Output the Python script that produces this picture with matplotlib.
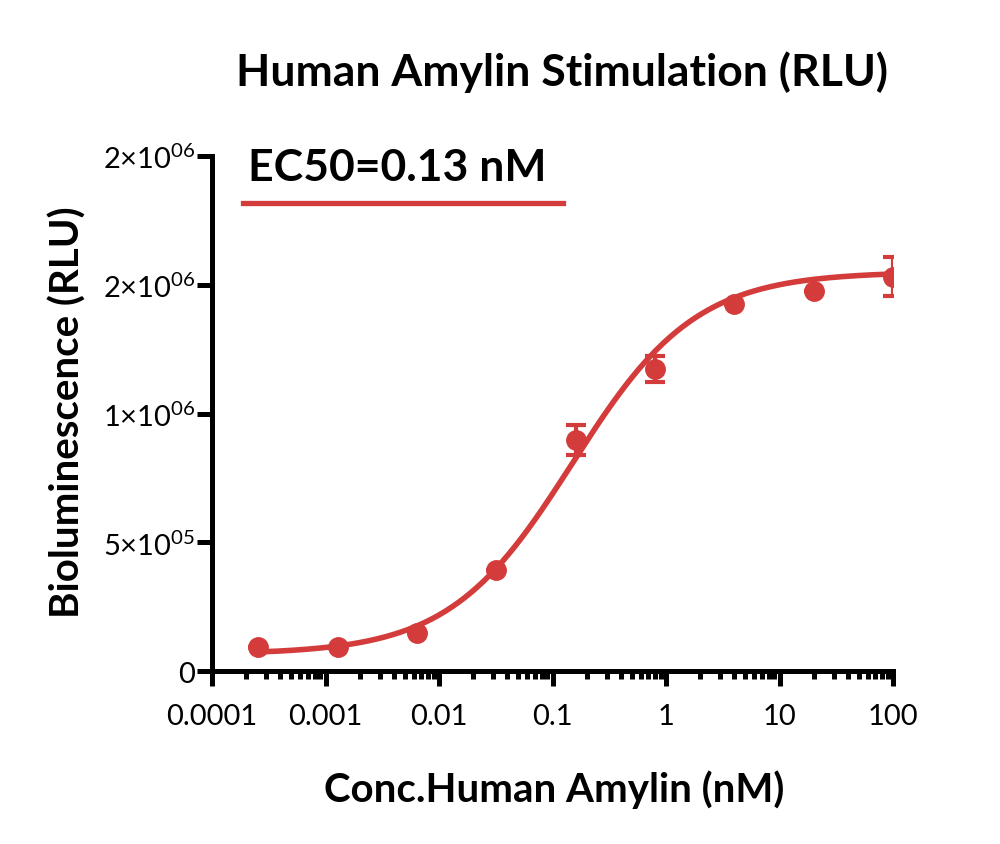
import numpy as np
import matplotlib
matplotlib.use("Agg")
import matplotlib.pyplot as plt
from matplotlib.ticker import FixedLocator, FixedFormatter, LogLocator, NullFormatter

plt.rcParams['font.family'] = ['Lato', 'DejaVu Sans']
plt.rcParams['mathtext.fontset'] = 'custom'
plt.rcParams['mathtext.rm'] = 'Lato'

# Measured data
conc = [0.000256, 0.00128, 0.0064, 0.032, 0.16, 0.8, 4, 20, 100]
rlu = [93000, 93000, 148000, 392000, 897000, 1173000, 1425000, 1476000, 1532000]
err = [0, 0, 0, 0, 60000, 50000, 0, 0, 76000]

# 4PL curve parameters (read to match the drawn fit)
bottom = 65000
top = 1550000
ec50_fit = 0.15
hill = 0.8

y_ticks = [0, 500000, 1000000, 1500000, 2000000]
y_labels = ['0', r'5×10$^{05}$', r'1×10$^{06}$', r'2×10$^{06}$', r'2×10$^{06}$']
x_ticks = [0.0001, 0.001, 0.01, 0.1, 1, 10, 100]
x_labels = ['0.0001', '0.001', '0.01', '0.1', '1', '10', '100']

red = '#d43c3c'

fig = plt.figure(figsize=(10, 8.45), dpi=100)
ax = fig.add_axes([0.212, 0.2047, 0.681, 0.6095])

xs = np.logspace(np.log10(conc[0]), np.log10(conc[-1]), 300)
ys = bottom + (top - bottom) / (1 + (ec50_fit / xs) ** hill)
ax.plot(xs, ys, color=red, lw=4, zorder=2)
ax.errorbar(conc, rlu, yerr=err, fmt='o', color=red, ms=14, elinewidth=3,
            capsize=7, capthick=3, zorder=3)

ax.set_xscale('log')
ax.set_xlim(0.0001, 100)
ax.set_ylim(0, 2000000)
ax.xaxis.set_major_locator(FixedLocator(x_ticks))
ax.xaxis.set_major_formatter(FixedFormatter(x_labels))
ax.xaxis.set_minor_locator(LogLocator(base=10, subs=np.arange(2, 10)))
ax.xaxis.set_minor_formatter(NullFormatter())
ax.yaxis.set_major_locator(FixedLocator(y_ticks))
ax.yaxis.set_major_formatter(FixedFormatter(y_labels))

for s in ['top', 'right']:
    ax.spines[s].set_visible(False)
for s in ['left', 'bottom']:
    ax.spines[s].set_linewidth(3.6)
ax.tick_params(which='major', length=11, width=3.6, labelsize=21)
ax.tick_params(axis='x', which='major', pad=12)
ax.tick_params(axis='y', which='major', pad=1)
ax.tick_params(axis='x', which='minor', length=6, width=3.6)

fig.text(0.5615, 0.915, 'Human Amylin Stimulation (RLU)', ha='center', va='center',
         fontsize=32, fontweight='bold')
fig.text(0.068, 0.5124, 'Bioluminescence (RLU)', ha='center', va='center', rotation=90,
         fontsize=29, fontweight='bold')
fig.text(0.554, 0.065, 'Conc.Human Amylin (nM)', ha='center', va='center',
         fontsize=29, fontweight='bold')

# legend: label above the line
ax.plot([0.0455, 0.515], [0.909, 0.909], transform=ax.transAxes, color=red, lw=3.8, clip_on=False)
ax.text(0.272, 0.979, 'EC50=0.13 nM', transform=ax.transAxes, ha='center', va='center',
        fontsize=32, fontweight='bold')

fig.savefig('out.png', dpi=100)
